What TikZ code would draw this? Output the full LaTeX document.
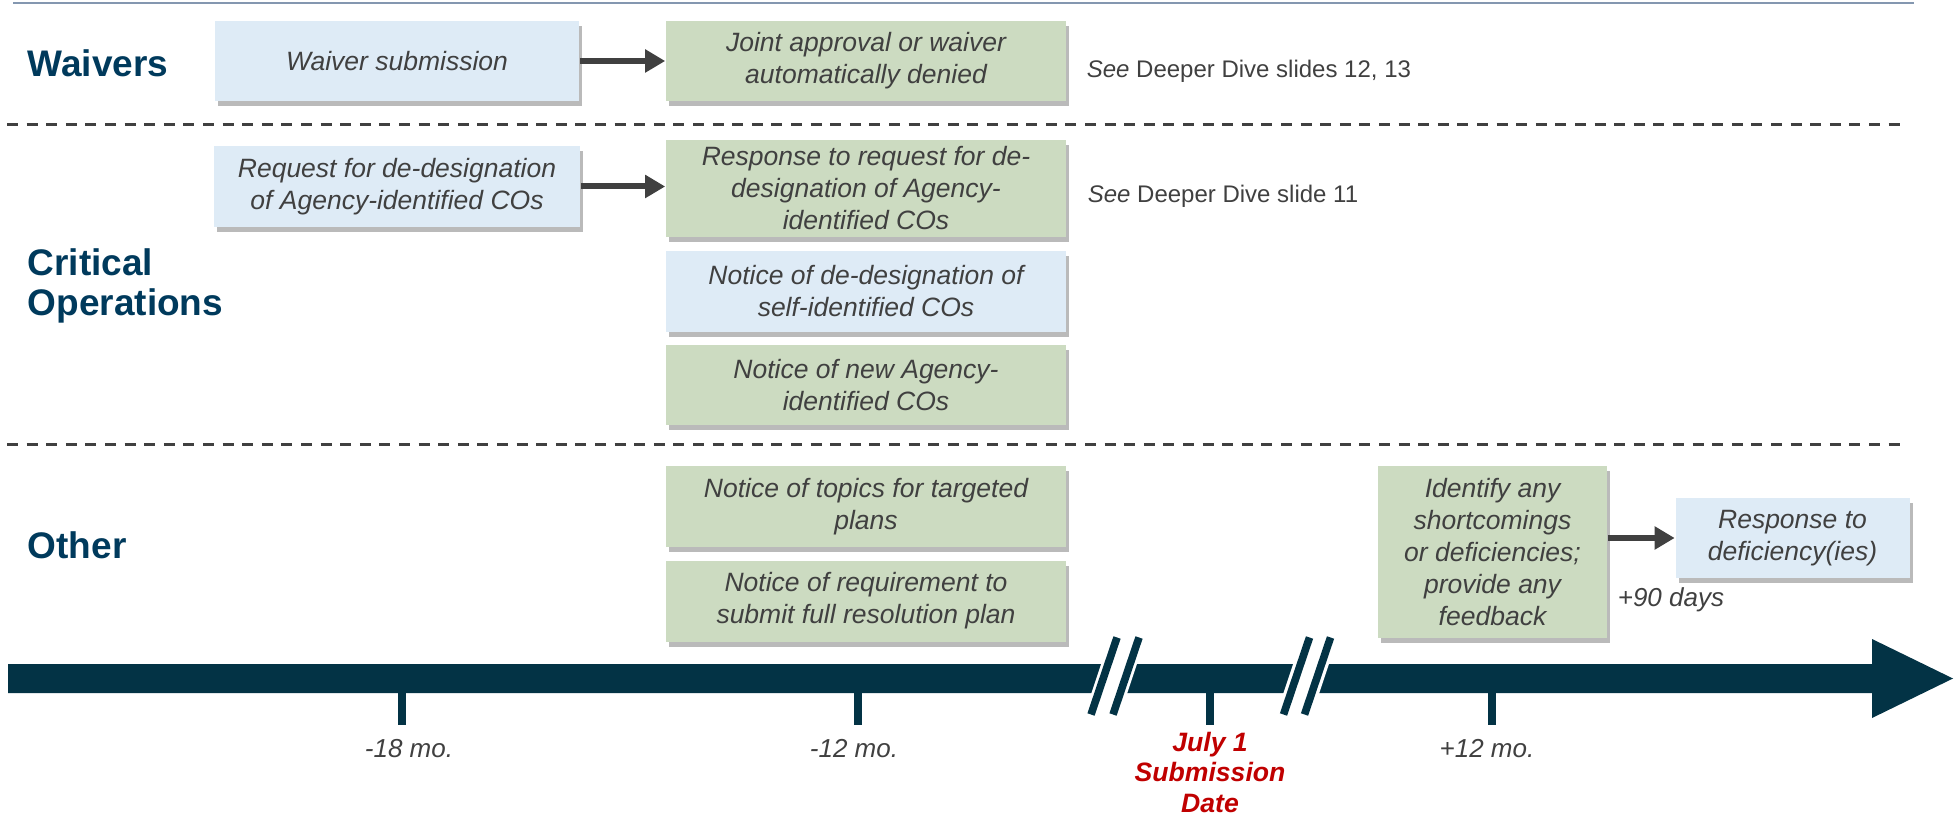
\documentclass[tikz,border=0pt]{standalone}
\usepackage{fontspec}
\setmainfont{Liberation Sans}
\usetikzlibrary{positioning,shadows,arrows.meta}

\definecolor{secblue}{RGB}{0,58,92}
\definecolor{tlteal}{RGB}{3,51,69}
\definecolor{boxblue}{RGB}{222,235,246}
\definecolor{boxgreen}{RGB}{204,219,193}
\definecolor{txtgray}{RGB}{64,64,64}
\definecolor{datered}{RGB}{192,0,0}
\definecolor{rulegray}{RGB}{132,151,176}

\tikzset{
	box/.style={inner sep=0pt, minimum height=40pt, align=center, text=txtgray,
		font=\fontsize{13.25}{16}\selectfont\itshape,
		drop shadow={shadow xshift=1.5pt, shadow yshift=-2.5pt, fill=black!45, opacity=.6}},
	bluebox/.style={box, fill=boxblue},
	greenbox/.style={box, fill=boxgreen},
	seclab/.style={anchor=west, inner sep=0pt, align=left, text=secblue,
		font=\fontsize{18.5}{20}\selectfont\bfseries},
	seenote/.style={anchor=base west, inner sep=0pt, text=txtgray, font=\fontsize{12}{14}\selectfont},
	ticklab/.style={anchor=base, inner sep=0pt, text=txtgray, font=\fontsize{13}{15}\selectfont\itshape},
	datelab/.style={anchor=north, inner sep=0pt, align=center, text=datered,
		font=\fontsize{13.3}{15.4}\selectfont\bfseries\itshape},
	sepline/.style={txtgray, line width=1.5pt, dash pattern=on 5.5pt off 4.3pt},
	tickmark/.style={tlteal, line width=3.8pt},
	slash/.style={tlteal, line width=3.8pt},
	flow/.style={-{Triangle[length=10pt,width=11pt]}, line width=3pt, color=txtgray},
}

\begin{document}
\begin{tikzpicture}[x=0.5pt, y=-0.5pt, thick]
		\useasboundingbox (0,0) rectangle (1957,817);
		% rules
		\draw[rulegray, line width=1.2pt] (13,3) -- (1914,3);
		\draw[sepline] (7,125) -- (1905,125);
		\draw[sepline] (7,445) -- (1905,445);

		% row labels
		\node[seclab] (lwaiv) at (27,63) {Waivers};
		\node[seclab] (lcrit) at (27,286) {Critical\\Operations};
		\node[seclab] (loth) at (27,545) {Other};

		% waivers
		\node[bluebox, minimum width=182pt] (wsub) at (397,61) {Waiver submission};
		\node[greenbox, minimum width=200pt] (wjoint) at (866,61) {Joint approval or waiver\\automatically denied};
		\node[seenote] (wsee) at (1086,78) {\textit{See} Deeper Dive slides 12, 13};

		% critical operations
		\node[bluebox, minimum width=183pt, minimum height=40.5pt] (coreq) at (397,186.5) {Request for de-designation\\of Agency-identified COs};
		\node[greenbox, minimum width=200pt, minimum height=48.5pt] (cores) at (866,188.5) {Response to request for de-\\designation of Agency-\\identified COs};
		\node[bluebox, minimum width=200pt, minimum height=40.5pt, below=6pt of cores] (coself) {Notice of de-designation of\\self-identified COs};
		\node[greenbox, minimum width=200pt, below=6pt of coself] (conew) {Notice of new Agency-\\identified COs};
		\node[seenote] (cosee) at (1087,203) {\textit{See} Deeper Dive slide 11};

		% other
		\node[greenbox, minimum width=200pt, minimum height=40.5pt] (otop) at (866,506.5) {Notice of topics for targeted\\plans};
		\node[greenbox, minimum width=200pt, minimum height=40.5pt, below=6pt of otop] (oreq) {Notice of requirement to\\submit full resolution plan};
		\node[greenbox, minimum width=114.5pt, minimum height=86pt] (oid) at (1492.5,552) {Identify any\\shortcomings\\or deficiencies;\\provide any\\feedback};
		\node[bluebox, minimum width=117pt] (odef) at (1792.5,538) {Response to\\deficiency(ies)};
		\node[ticklab, anchor=base west] (o90) at (1617,606) {+90 days};

		\path[flow]
			(wsub) edge (wjoint) % submission to decision
			(coreq.east) edge (coreq.east -| cores.west) % request to response
			(odef.west -| oid.east) edge (odef.west) % feedback to response
			;

		% timeline
		\fill[tlteal] (8,664) -- (1872,664) -- (1872,639) -- (1953,678.5) -- (1872,718) -- (1872,693) -- (8,693) -- cycle;
		\coordinate (brk1) at (1115,676);
		\coordinate (brk2) at (1307,676);
		\draw[white, line width=17pt] (brk1) ++(-14,42) -- ++(28,-84);
		\draw[slash] (brk1) ++(-24,38.5) -- ++(26,-77);
		\draw[slash] (brk1) ++(-2,38.5) -- ++(26,-77);
		\draw[white, line width=17pt] (brk2) ++(-14,42) -- ++(28,-84);
		\draw[slash] (brk2) ++(-23.5,38.5) -- ++(26,-77);
		\draw[slash] (brk2) ++(-2.5,38.5) -- ++(26,-77);

		\draw[tickmark] (402,693) -- (402,725);
		\draw[tickmark] (858,693) -- (858,725);
		\draw[tickmark] (1210,693) -- (1210,725);
		\draw[tickmark] (1492,693) -- (1492,725);

		\node[ticklab] (m18) at (409,757) {-18 mo.};
		\node[ticklab] (m12) at (854,757) {-12 mo.};
		\node[ticklab] (p12) at (1487,757) {+12 mo.};
		\node[datelab] (subdate) at (1210,731) {July 1\\Submission\\Date};
\end{tikzpicture}
\end{document}
